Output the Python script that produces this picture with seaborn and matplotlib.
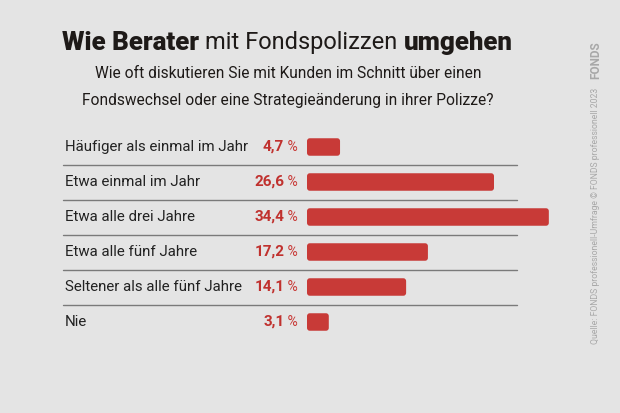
import matplotlib
matplotlib.use("Agg")
import pandas as pd
import seaborn as sns
from matplotlib import pyplot as plt
from matplotlib.patches import FancyBboxPatch

categories = ["Häufiger als einmal im Jahr", "Etwa einmal im Jahr", "Etwa alle drei Jahre",
              "Etwa alle fünf Jahre", "Seltener als alle fünf Jahre", "Nie"]
values = [4.7, 26.6, 34.4, 17.2, 14.1, 3.1]
value_labels = ["4,7", "26,6", "34,4", "17,2", "14,1", "3,1"]

BG = "#e4e4e4"
RED = "#c83a37"
df = pd.DataFrame({"cat": categories, "val": values})

sns.set_theme(style="white")
plt.rcParams["font.family"] = ["Roboto", "DejaVu Sans"]

fig = plt.figure(figsize=(6.2, 4.13), dpi=100, facecolor=BG)
W, H = 620, 413
px = 7.03  # pixels per percent
left, right_val = 307, 40
ax = fig.add_axes([left / W, 1 - 339.5 / H, right_val * px / W, 210 / H])
ax.set_facecolor(BG)
sns.barplot(data=df, x="val", y="cat", color=RED, width=0.5, ax=ax, saturation=1)
ax.set_xlim(0, right_val)
ax.set_ylim(5.5, -0.5)
ax.axis("off")

# swap the plain bars for rounded ones (x unit = 7 px, y unit = 35 px)
for p in list(ax.patches):
    x, y, w, h = p.get_x(), p.get_y(), p.get_width(), p.get_height()
    p.remove()
    ax.add_patch(FancyBboxPatch((x, y), w, h, boxstyle="round,pad=0,rounding_size=0.4",
                                mutation_aspect=px / 35.0, fc=RED, ec="none",
                                clip_on=False))

def xd(pxx):
    return (pxx - left) / px

for i, (cat, lab) in enumerate(zip(categories, value_labels)):
    ax.text(xd(65), i, cat, ha="left", va="center", fontsize=10.8, color="#222222")
    t = ax.text(xd(298), i, " %", ha="right", va="center", fontsize=10, color=RED)
    ax.annotate(lab, xy=(0, 0.5), xycoords=t, ha="right", va="center", fontsize=11,
                fontweight="bold", color="#c0312e")
    if i < len(categories) - 1:
        ax.plot([xd(63), xd(517)], [i + 0.5, i + 0.5], color="#7a7a7a", lw=1, clip_on=False)

# title in three pieces
fig.canvas.draw()
r = fig.canvas.get_renderer()
xpos = 62 / W
for txt, wt, fs in [("Wie Berater ", "black", 18.6), ("mit Fondspolizzen ", "normal", 17),
                    ("umgehen", "black", 18.6)]:
    t = fig.text(xpos, 1 - 43 / H, txt, fontsize=fs, fontweight=wt, color="#1e1a18",
                 va="center", ha="left")
    bb = t.get_window_extent(r)
    xpos += bb.width / W

fig.text(288 / W, 1 - 74 / H, "Wie oft diskutieren Sie mit Kunden im Schnitt über einen",
         ha="center", va="center", fontsize=11.2, color="#1e1a18")
fig.text(288 / W, 1 - 101 / H, "Fondswechsel oder eine Strategieänderung in ihrer Polizze?",
         ha="center", va="center", fontsize=11.2, color="#1e1a18")

fig.text(596 / W, 1 - 60 / H, "FONDS", rotation=90, ha="center", va="center",
         fontsize=8.5, fontweight="bold", color="#a8a8a8")
fig.text(596 / W, 1 - 216 / H, "Quelle: FONDS professionell-Umfrage © FONDS professionell 2023",
         rotation=90, ha="center", va="center", fontsize=6.2, color="#a8a8a8")

fig.savefig("out.png", dpi=100, facecolor=BG)
